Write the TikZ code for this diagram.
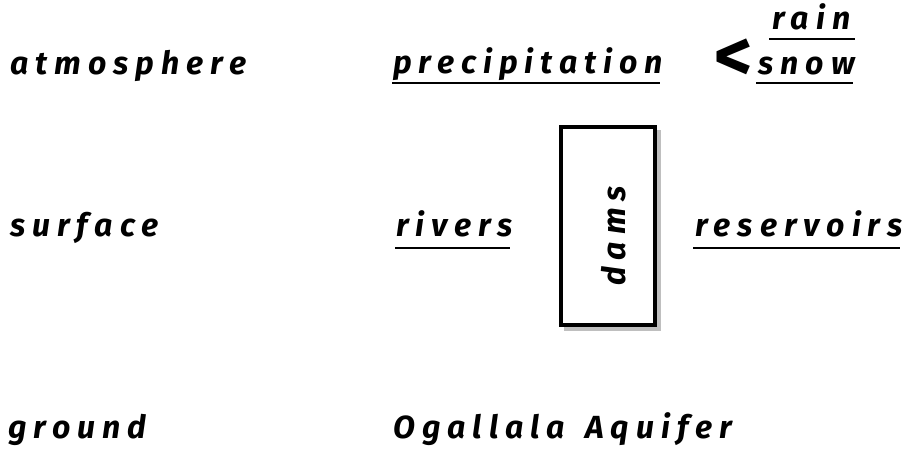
\documentclass[tikz,border=0pt]{standalone}
\usepackage{fontspec}
\setmainfont{Fira Sans}[LetterSpace=22]
\begin{document}
\begin{tikzpicture}[x=1pt,y=1pt,
  lbl/.style={anchor=base west,inner sep=0pt,font=\fontsize{32}{36}\selectfont\bfseries\itshape},
  uline/.style={line width=1.3pt},
  dambox/.style={draw,line width=3.5pt,fill=white,minimum width=94pt,minimum height=198pt,inner sep=0pt}]
\useasboundingbox (0,0) rectangle (908,-449);
% rows
\node[lbl] (atm) at (10,-75) {atmosphere};
\node[lbl] (sur) at (10,-237) {surface};
\node[lbl] (gro) at (8,-438) {ground};
% atmosphere row
\node[lbl] (pre) at (393,-74) {precipitation};
\draw[uline] ([yshift=-9pt,xshift=-1pt]pre.base west) -- ([yshift=-9pt,xshift=-3pt]pre.base east);
\node[anchor=base west,inner sep=0pt,font=\fontsize{74}{80}\selectfont\bfseries] (lt) at (714,-82) {<};
\node[lbl] (rain) at (772,-30) {rain};
\node[lbl] (snow) at (758,-75) {snow};
\coordinate (rl) at (769,-39);
\coordinate (rr) at (855,-39);
\draw[uline] (rl) -- (rr);
\draw[uline] ([yshift=-8pt,xshift=-2pt]snow.base west) -- ([yshift=-8pt,xshift=-2pt]snow.base east);
% surface row
\node[lbl] (riv) at (396,-237) {rivers};
\draw[uline] ([yshift=-11pt,xshift=-1pt]riv.base west) -- ([yshift=-11pt,xshift=-3pt]riv.base east);
\fill[black!25] (564,-130) rectangle (661,-331);
\node[dambox] (dam) at (608,-226) {};
\node[lbl,anchor=center,rotate=90] (dams) at (614,-236) {dams};
\node[lbl] (res) at (695,-237) {reservoirs};
\draw[uline] ([yshift=-11pt,xshift=-2pt]res.base west) -- ([yshift=-11pt,xshift=-3pt]res.base east);
% ground row
\node[lbl] (oga) at (393,-438) {Ogallala\hspace{6pt} Aquifer};
\end{tikzpicture}
\end{document}
